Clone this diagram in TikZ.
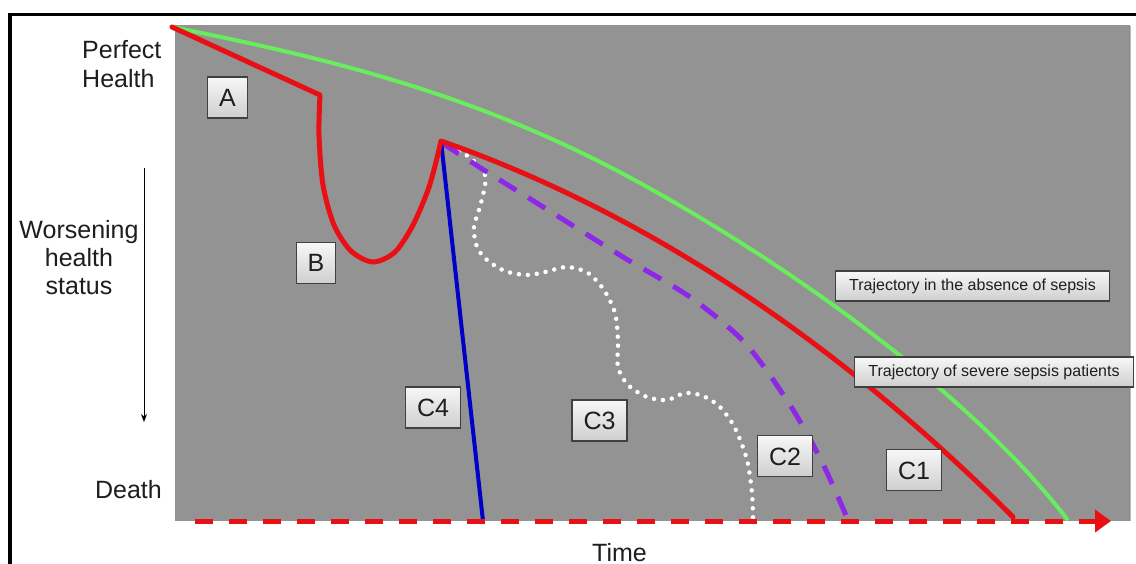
\documentclass[tikz,border=0pt]{standalone}
\usepackage{fontspec}
\setmainfont{Liberation Sans}
\usetikzlibrary{arrows.meta}

\definecolor{panel}{RGB}{147,147,147}
\definecolor{sepsisred}{RGB}{232,16,20}
\definecolor{healthgreen}{RGB}{104,238,92}
\definecolor{fastblue}{RGB}{0,0,200}
\definecolor{violetdash}{RGB}{140,40,230}
\definecolor{inktext}{RGB}{30,30,30}

\tikzset{
  axislabel/.style={inner sep=0pt, text=inktext, font=\fontsize{25}{29}\selectfont},
  tag/.style={draw=black!75, line width=1.2pt, top color=gray!6, bottom color=gray!38,
    text=inktext, font=\fontsize{25}{30}\selectfont, minimum height=41pt,
    inner xsep=11.5pt, inner ysep=0pt, text height=18pt, text depth=0pt},
  legendtag/.style={draw=black!75, line width=1.2pt, top color=gray!6, bottom color=gray!38,
    text=inktext, font=\fontsize{16}{19}\selectfont, minimum height=30pt,
    inner xsep=14pt, inner ysep=0pt},
  curve/.style={line width=#1, line cap=round, line join=round},
}

\begin{document}
\begin{tikzpicture}[x=1pt,y=-1pt]
\useasboundingbox (0,0) rectangle (1136,564);
\fill[white] (0,0) rectangle (1136,564);

% grey plotting panel with a soft right edge
\fill[panel] (175,25) rectangle (1130,521);
\draw[black!45, line width=1.5pt, opacity=.6] (1130,26) -- (1130,521);

% frame
\draw[line width=3.5pt, line join=miter] (9.8,564) -- (9.8,14.3) -- (1136,14.3);

% key points
\coordinate (start) at (172,27);
\coordinate (hit) at (320,95);
\coordinate (peak) at (441,141);
\coordinate (c4end) at (483,521);
\coordinate (c1end) at (1013,517);
\coordinate (gmid) at (640,183);
\coordinate (gend) at (1067,519);
\coordinate (t0) at (195,521);
\coordinate (tend) at (1111,521);
\coordinate (wtop) at (144,168);
\coordinate (wbot) at (144,422);

% C3: fluctuating decline (white dotted)
\draw[white, line width=4.5pt, line cap=round, dash pattern=on 0pt off 9pt]
  plot[smooth] coordinates {(442,145) (465,154) (485,175) (481,203) (474,227) (477,247)
  (487,260) (505,271) (527,275) (545,272) (567,267) (588,273) (604,290) (615,313)
  (618,340) (618,367) (628,385) (647,397) (667,400) (685,393) (703,396) (720,407)
  (735,428) (747,460) (752,493) (753,520)};

% C2: accelerated decline (violet dashed)
\draw[violetdash, line width=5pt, dash pattern=on 20pt off 14pt]
  plot[smooth] coordinates {(442,143) (487,172) (540,205) (623,257) (690,297)
  (745,343) (790,405) (822,462) (848,520)};

% C4: rapid death (blue)
\draw[fastblue, curve=4pt] (peak) -- (c4end);

% trajectory in the absence of sepsis (green)
\draw[healthgreen, curve=4pt] (start)
  .. controls (332,59) and (480,95) .. (gmid)
  .. controls (780,260) and (967,389) .. (gend);

% trajectory of severe sepsis patients (red)
\draw[sepsisred, curve=5pt] (start) -- (hit)
  -- plot[smooth] coordinates {(320,95) (319,135) (323,185) (334,225) (351,251)
  (373,262) (395,252) (413,225) (428,190) (436,162) (441,141)}
  .. controls (641,211) and (833,337) .. (c1end);

% time axis
\draw[sepsisred, line width=5pt, dash pattern=on 18pt off 16pt,
  -{Triangle[length=16pt,width=22pt]}] (t0) -- (tend);

% worsening arrow
\draw[line width=1pt, -{Stealth[length=8pt,width=6pt]}] (wtop) -- (wbot);

% axis texts
\node[axislabel, anchor=north west, align=left] (perfect) at (82,40) {Perfect\\Health};
\node[axislabel, anchor=north, align=center, font=\fontsize{25}{28}\selectfont]
  (worse) at (79,220) {Worsening\\health\\status};
\node[axislabel, anchor=base east] (death) at (162,498) {Death};
\node[axislabel, anchor=base] (time) at (619.5,561) {Time};

% phase labels
\node[tag] (A) at (227.5,97.5) {A};
\node[tag] (B) at (316,263) {B};
\node[tag] (C4) at (433,407.5) {C4};
\node[tag] (C3) at (599.5,420.5) {C3};
\node[tag] (C2) at (785,456) {C2};
\node[tag] (C1) at (914,470) {C1};

% legend labels
\node[legendtag] (absence) at (972.5,286) {Trajectory in the absence of sepsis};
\node[legendtag] (severe) at (994,372) {Trajectory of severe sepsis patients};
\end{tikzpicture}
\end{document}
